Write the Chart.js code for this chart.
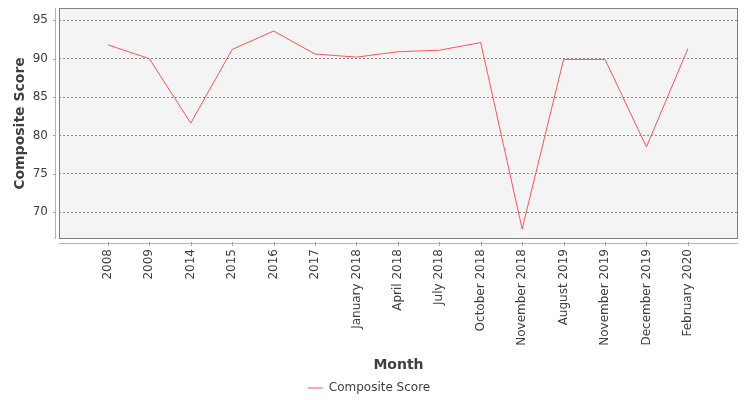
<!DOCTYPE html>
<html>
<head>
<meta charset="utf-8">
<script src="https://cdn.jsdelivr.net/npm/chart.js@4.4.1/dist/chart.umd.min.js"></script>
<style>
html,body{margin:0;padding:0;background:#fff;}
#wrap{width:750px;height:400px;position:relative;}
</style>
</head>
<body>
<div id="wrap"><canvas id="c" width="750" height="400"></canvas></div>
<script>
const categories = ["2008","2009","2014","2015","2016","2017","January 2018","April 2018","July 2018","October 2018","November 2018","August 2019","November 2019","December 2019","February 2020"];
const compositeScore = [91.8, 90.0, 81.6, 91.2, 93.6, 90.6, 90.2, 90.9, 91.1, 92.1, 67.8, 89.9, 89.9, 78.5, 91.3];
const yTicks = [70, 75, 80, 85, 90, 95];
const seriesName = "Composite Score";
const xTitle = "Month";
const yTitle = "Composite Score";

Chart.defaults.font.family = "'DejaVu Sans', sans-serif";
Chart.defaults.color = "#404040";

const PLOT_L = 59, PLOT_T = 8, PLOT_R = 738, PLOT_B = 238, LEGEND_TOP = 377;

const plotDecor = {
  id: 'plotDecor',
  beforeDraw(chart) {
    const a = chart.chartArea, ctx = chart.ctx;
    ctx.save();
    ctx.fillStyle = '#f4f4f4';
    ctx.fillRect(a.left, a.top, a.right - a.left, a.bottom - a.top);
    ctx.restore();
  },
  afterDraw(chart) {
    const a = chart.chartArea, ctx = chart.ctx;
    const xs = chart.scales.x, ys = chart.scales.y;
    ctx.save();
    ctx.lineWidth = 1;
    ctx.strokeStyle = '#808080';
    ctx.strokeRect(Math.round(a.left) + 0.5, Math.round(a.top) + 0.5, Math.round(a.right - a.left) - 1, Math.round(a.bottom - a.top) - 1);
    ctx.strokeStyle = '#b4b4b4';
    ctx.beginPath();
    const axX = Math.round(a.left) - 3.5;
    ctx.moveTo(axX, a.top); ctx.lineTo(axX, a.bottom);
    const axY = Math.round(a.bottom) + 4.5;
    ctx.moveTo(a.left, axY); ctx.lineTo(a.right, axY);
    ctx.stroke();
    ctx.strokeStyle = '#a0a0a0';
    ctx.beginPath();
    yTicks.forEach(v => {
      const py = Math.round(ys.getPixelForValue(v)) + 0.5;
      ctx.moveTo(axX - 2.5, py); ctx.lineTo(axX, py);
    });
    categories.forEach((c, i) => {
      const px = Math.round(xs.getPixelForValue(i)) + 0.5;
      ctx.moveTo(px, axY - 1.5); ctx.lineTo(px, axY + 2.5);
    });
    ctx.stroke();
    ctx.restore();
  }
};

new Chart(document.getElementById('c'), {
  type: 'line',
  data: {
    datasets: [{
      label: seriesName,
      data: categories.map((c, i) => ({x: i, y: compositeScore[i]})),
      borderColor: '#ff5555',
      backgroundColor: '#ff5555',
      borderWidth: 1,
      pointRadius: 0,
      pointHoverRadius: 0,
      tension: 0,
      fill: false
    }]
  },
  options: {
    responsive: false,
    animation: false,
    devicePixelRatio: 1,
    layout: { padding: { left: 0, top: PLOT_T, right: 750 - PLOT_R, bottom: -4 } },
    plugins: {
      tooltip: { enabled: false },
      legend: {
        position: 'bottom',
        labels: {
          font: { size: 12 },
          color: '#404040',
          boxWidth: 15,
          boxHeight: 1,
          padding: 4,
          generateLabels(chart) {
            const ds = chart.data.datasets[0];
            return [{ text: ds.label, fillStyle: ds.borderColor, strokeStyle: ds.borderColor, lineWidth: 0, hidden: false, datasetIndex: 0, fontColor: '#404040' }];
          }
        }
      }
    },
    scales: {
      x: {
        type: 'linear',
        min: -1.18,
        max: categories.length - 1 + 1.21,
        afterBuildTicks(s) { s.ticks = categories.map((c, i) => ({ value: i })); },
        afterFit(s) { s.height = LEGEND_TOP - PLOT_B; s.paddingLeft = 0; s.paddingRight = 0; },
        grid: { display: false, drawTicks: false },
        border: { display: false },
        ticks: {
          autoSkip: false,
          maxRotation: 90,
          minRotation: 90,
          padding: 10,
          font: { size: 12 },
          color: '#404040',
          callback(v) { return categories[v]; }
        },
        title: { display: true, text: xTitle, font: { size: 14, weight: 'bold' }, color: '#404040', padding: { top: 4, bottom: 4 } }
      },
      y: {
        min: 66.5,
        max: 96.6,
        afterBuildTicks(s) { s.ticks = yTicks.map(v => ({ value: v })); },
        afterFit(s) { s.width = PLOT_L; s.paddingTop = 0; s.paddingBottom = 0; },
        grid: { color: '#8a8a8a', lineWidth: 1, drawTicks: false },
        border: { display: false, dash: [2, 2] },
        ticks: { padding: 11, font: { size: 12 }, color: '#404040' },
        title: { display: true, text: yTitle, font: { size: 14, weight: 'bold' }, color: '#404040', padding: { top: 12, bottom: 0 } }
      }
    }
  },
  plugins: [plotDecor]
});
</script>
</body>
</html>
